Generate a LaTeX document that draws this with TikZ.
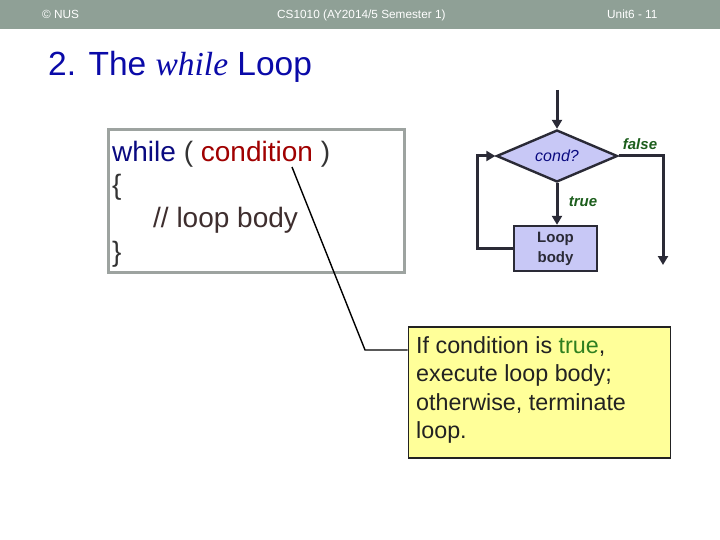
\documentclass[tikz,border=0pt]{standalone}
\usepackage{fontspec}
\setmainfont{Liberation Sans}
\newfontfamily\serifit{Liberation Serif}
\usetikzlibrary{shapes.geometric,arrows.meta}
\definecolor{hdr}{HTML}{8FA096}
\definecolor{ttl}{HTML}{0A0AA8}
\definecolor{kw}{HTML}{0A0A80}
\definecolor{cnd}{HTML}{A00000}
\definecolor{punc}{HTML}{333333}
\definecolor{cmt}{HTML}{3E2E2E}
\definecolor{boxgray}{HTML}{9DA3A0}
\definecolor{lav}{HTML}{C8C8F6}
\definecolor{flow}{HTML}{2A2A36}
\definecolor{grn}{HTML}{1C5E1C}
\definecolor{grn2}{HTML}{2F7F1F}
\definecolor{note}{HTML}{FFFF99}
\definecolor{notetxt}{HTML}{222222}
\tikzset{
  txt/.style={inner sep=0pt, anchor=base west},
  hdrtxt/.style={txt, text=white, font=\fontsize{11.8}{13}\selectfont},
  code/.style={txt, font=\fontsize{28}{30}\selectfont},
  flowline/.style={draw=flow, line width=3pt},
  flowarrow/.style={flowline, -{Triangle[length=9pt,width=10pt]}},
  flowshape/.style={draw=flow, line width=2.4pt, fill=lav},
  lbl/.style={inner sep=0pt, text=grn, font=\fontsize{15}{17}\selectfont\bfseries\itshape},
  notetext/.style={txt, text=notetxt, font=\fontsize{23.3}{27}\selectfont},
}
\begin{document}
\begin{tikzpicture}[x=1pt,y=-1pt]
\useasboundingbox (0,0) rectangle (720,540);
\fill[white] (0,0) rectangle (720,540);
% header
\fill[hdr] (0,0) rectangle (720,29);
\node[hdrtxt] (copy) at (42,19) {© NUS};
\node[hdrtxt] (course) at (277,19) {CS1010 (AY2014/5 Semester 1)};
\node[hdrtxt] (unit) at (607,19) {Unit6 - 11};
% title
\node[txt, text=ttl, font=\fontsize{33.5}{36}\selectfont] (title) at (48,76) {2. The {\serifit\itshape while} Loop};
% code box
\draw[boxgray, line width=3pt] (108,130) rectangle (404,272);
\node[code] (l1) at (112,162) {\textcolor{kw}{while} \textcolor{punc}{(} \textcolor{cnd}{condition} \textcolor{punc}{)}};
\node[code, text=punc] (l2) at (112,195) {\{};
\node[code, text=cmt] (l3) at (153,228) {// loop body};
\node[code, text=punc] (l4) at (112,261) {\}};
% flowchart
\coordinate (entry) at (557,90);
\node[diamond, flowshape, inner sep=0pt, minimum width=121pt, minimum height=52pt, aspect=2.3,
      text=kw, font=\fontsize{16}{18}\selectfont\itshape] (cond) at (557,156) {cond?};
\node[rectangle, flowshape, minimum width=83pt, minimum height=45pt, inner sep=0pt, align=center,
      text=flow, font=\fontsize{15}{20}\selectfont\bfseries] (body) at (555.5,248.5) {Loop\\body};
\coordinate (fcorner) at (663,156);
\coordinate (fend) at (663,265);
\coordinate (bl) at (477,248.5);
\coordinate (tl) at (477,156);
\draw[flowarrow] (entry) -- (cond.north);
\draw[flowarrow] (cond.south) -- (cond.south |- body.north);
\draw[flowarrow, line join=miter] (cond.east) -- (fcorner) -- (fend);
\draw[flowarrow, line join=miter] (body.west) -- (bl) -- (tl) -- (cond.west);
\node[lbl] (false) at (640,144) {false};
\node[lbl] (true) at (583,202) {true};
% callout
\node[draw=notetxt, line width=1.8pt, fill=note, minimum width=262pt, minimum height=131pt, inner sep=0pt, anchor=north west] (note) at (407.5,326) {};
\node[notetext] (n1) at (416,353) {If condition is \textcolor{grn2}{true},};
\node[notetext] (n2) at (416,381.5) {execute loop body;};
\node[notetext] (n3) at (416,410) {otherwise, terminate};
\node[notetext] (n4) at (416,438.5) {loop.};
\coordinate (cs) at (292,167);
\coordinate (bend) at (365,350);
\draw[black, line width=1.4pt] (cs) -- (bend) -- (bend -| note.west);
\end{tikzpicture}
\end{document}
